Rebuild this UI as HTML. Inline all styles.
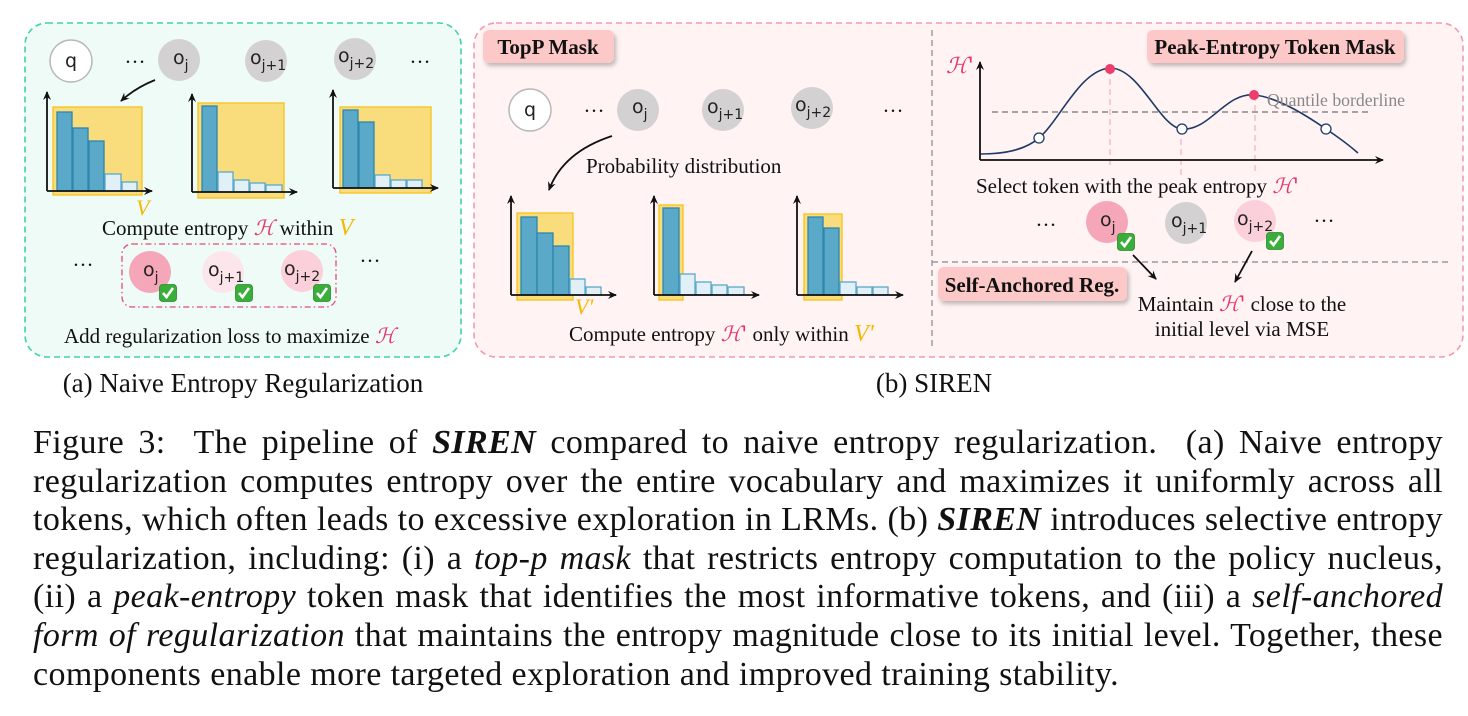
<!DOCTYPE html>
<html><head><meta charset="utf-8">
<style>
html,body{margin:0;padding:0;background:#fff;width:1468px;height:716px;overflow:hidden}
.cap{position:absolute;left:33px;width:1410px;top:424px;font-family:"Liberation Serif",serif;font-size:34px;letter-spacing:0.4px;line-height:38.6px;color:#111}
.cap div{text-align:justify;text-align-last:justify;white-space:nowrap}
.cap div.last{text-align-last:left}
svg{position:absolute;left:0;top:0}
</style></head><body>
<svg width="1468" height="430" viewBox="0 0 1468 430" xmlns="http://www.w3.org/2000/svg">
<defs>
<marker id="ar" markerWidth="10" markerHeight="10" refX="8" refY="5" orient="auto" markerUnits="userSpaceOnUse"><path d="M0,1 L9,5 L0,9 L3,5 Z" fill="#111"/></marker>
<filter id="sh" x="-10%" y="-20%" width="130%" height="160%"><feDropShadow dx="2" dy="3" stdDeviation="2" flood-color="#000" flood-opacity="0.25"/></filter>
<g id="chk"><rect x="-8.5" y="-8.5" width="17" height="17" rx="3" fill="#3aae3a" stroke="#2a8a2a" stroke-width="0.8"/><path d="M-5,0 L-1.5,4 L5,-5" fill="none" stroke="#fff" stroke-width="2.6"/></g>
</defs>
<style>
.tk{font-family:"DejaVu Sans",sans-serif;font-size:19px;fill:#222}
.sb{font-size:14px}
.t{font-family:"Liberation Serif",serif;font-size:21px;fill:#111}
.H{fill:#e8336b;font-style:italic;font-family:"DejaVu Serif",serif}
.V{fill:#f5b800;font-style:italic;font-family:"Liberation Serif",serif}
.bar{fill:#5ba9c8;stroke:#2f86ad;stroke-width:1.3}
.lb{fill:#e0f0f6;stroke:#5aa9c9;stroke-width:1.3}
.y{fill:#f9dc7c;stroke:#f7c31a;stroke-width:1.3}
.ax{stroke:#111;stroke-width:1.8;fill:none}
.lbl{font-family:"Liberation Serif",serif;font-weight:bold;font-size:21px;fill:#111}
.ttl{font-family:"Liberation Serif",serif;font-size:27px;fill:#111}
</style>

<rect x="25" y="23" width="436" height="334" rx="22" fill="#effbf7" stroke="#3fd3a6" stroke-width="1.6" stroke-dasharray="6,4"/>
<circle cx="71" cy="61" r="21" fill="#fff" stroke="#b8b8b8" stroke-width="1.5"/>
<text class="tk" x="71" y="67" text-anchor="middle">q</text>
<text class="t" x="135" y="63" text-anchor="middle">…</text>
<circle cx="179" cy="60" r="21" fill="#d3d1d1"/>
<text class="tk" x="173" y="64">o<tspan class="sb" dy="6">j</tspan></text>
<circle cx="266" cy="61" r="21" fill="#d3d1d1"/>
<text class="tk" x="250" y="64">o<tspan class="sb" dy="6">j+1</tspan></text>
<circle cx="355" cy="59" r="21" fill="#d3d1d1"/>
<text class="tk" x="338" y="62">o<tspan class="sb" dy="6">j+2</tspan></text>
<text class="t" x="420" y="63" text-anchor="middle">…</text>
<path d="M155,80 Q135,88 121,101" class="ax" stroke-width="1.2" marker-end="url(#ar)"/>
<rect class="y" x="53" y="107" width="89" height="88"/>
<rect class="bar" x="57" y="112" width="15" height="79"/><rect class="bar" x="73" y="128" width="15" height="63"/><rect class="bar" x="89" y="141" width="15" height="50"/>
<rect class="lb" x="105" y="174" width="16" height="17"/><rect class="lb" x="122" y="182" width="15" height="9"/>
<path class="ax" d="M47,191 V92" marker-end="url(#ar)"/><path class="ax" d="M47,191 H152" marker-end="url(#ar)"/>
<rect class="y" x="198" y="103" width="86" height="95"/>
<rect class="bar" x="202" y="106" width="15" height="86"/>
<rect class="lb" x="218" y="172" width="15" height="20"/><rect class="lb" x="234" y="180" width="15" height="12"/><rect class="lb" x="250" y="183" width="15" height="9"/><rect class="lb" x="266" y="185" width="16" height="7"/>
<path class="ax" d="M192,192 V94" marker-end="url(#ar)"/><path class="ax" d="M192,192 H297" marker-end="url(#ar)"/>
<rect class="y" x="340" y="107" width="91" height="86"/>
<rect class="bar" x="343" y="110" width="15" height="78"/><rect class="bar" x="359" y="122" width="15" height="66"/>
<rect class="lb" x="375" y="175" width="15" height="13"/><rect class="lb" x="391" y="180" width="15" height="8"/><rect class="lb" x="407" y="180" width="15" height="8"/>
<path class="ax" d="M333,188 V90" marker-end="url(#ar)"/><path class="ax" d="M333,188 H438" marker-end="url(#ar)"/>
<text class="V" x="136" y="215" font-size="22">V</text>
<text class="t" x="102" y="235">Compute entropy <tspan class="H">ℋ</tspan> within <tspan class="V" font-size="24">V</tspan></text>
<rect x="122" y="244" width="214" height="63" rx="10" fill="none" stroke="#e8487a" stroke-width="1.3" stroke-dasharray="6,3,1.5,3"/>
<text class="t" x="83" y="266" text-anchor="middle">…</text>
<text class="t" x="370" y="262" text-anchor="middle">…</text>
<circle cx="150" cy="272" r="21" fill="#f5a6b8"/>
<text class="tk" x="143" y="276">o<tspan class="sb" dy="6">j</tspan></text>
<circle cx="223" cy="272" r="21" fill="#fde6eb"/>
<text class="tk" x="208" y="276">o<tspan class="sb" dy="6">j+1</tspan></text>
<circle cx="302" cy="271" r="21" fill="#fbd0da"/>
<text class="tk" x="284" y="275">o<tspan class="sb" dy="6">j+2</tspan></text>
<use href="#chk" x="168" y="293"/><use href="#chk" x="244" y="293"/><use href="#chk" x="322" y="293"/>
<text class="t" x="64" y="343">Add regularization loss to maximize <tspan class="H">ℋ</tspan></text>
<text class="ttl" x="243" y="392" text-anchor="middle">(a) Naive Entropy Regularization</text>

<rect x="474" y="23" width="989" height="334" rx="22" fill="#fff3f3" stroke="#f39ab0" stroke-width="1.6" stroke-dasharray="6,4"/>
<path d="M932,30 V346" stroke="#999" stroke-width="1.4" stroke-dasharray="6,4"/>
<path d="M932,262 H1452" stroke="#999" stroke-width="1.4" stroke-dasharray="6,4"/>
<rect x="483" y="30" width="131" height="33" rx="6" fill="#fcc8c8" filter="url(#sh)"/>
<text class="lbl" x="548" y="54" text-anchor="middle">TopP Mask</text>
<circle cx="530" cy="110" r="21" fill="#fff" stroke="#b8b8b8" stroke-width="1.5"/>
<text class="tk" x="530" y="116" text-anchor="middle">q</text>
<text class="t" x="594" y="112" text-anchor="middle">…</text>
<circle cx="638" cy="110" r="21" fill="#d3d1d1"/>
<text class="tk" x="632" y="113">o<tspan class="sb" dy="6">j</tspan></text>
<circle cx="723" cy="110" r="21" fill="#d3d1d1"/>
<text class="tk" x="707" y="113">o<tspan class="sb" dy="6">j+1</tspan></text>
<circle cx="812" cy="108" r="21" fill="#d3d1d1"/>
<text class="tk" x="795" y="111">o<tspan class="sb" dy="6">j+2</tspan></text>
<text class="t" x="893" y="112" text-anchor="middle">…</text>
<path d="M612,136 Q563,152 549,190" class="ax" stroke-width="1.2" marker-end="url(#ar)"/>
<text class="t" x="586" y="173">Probability distribution</text>
<rect class="y" x="517" y="213" width="56" height="87"/>
<rect class="bar" x="521" y="217" width="16" height="78"/><rect class="bar" x="537" y="233" width="16" height="62"/><rect class="bar" x="553" y="246" width="16" height="49"/>
<rect class="lb" x="570" y="279" width="15" height="16"/><rect class="lb" x="586" y="287" width="15" height="8"/>
<path class="ax" d="M511,295 V196" marker-end="url(#ar)"/><path class="ax" d="M511,295 H616" marker-end="url(#ar)"/>
<text class="V" x="575" y="314" font-size="22">V'</text>
<rect class="y" x="659" y="205" width="24" height="95"/>
<rect class="bar" x="663" y="208" width="16" height="87"/>
<rect class="lb" x="680" y="274" width="15" height="21"/><rect class="lb" x="696" y="282" width="15" height="13"/><rect class="lb" x="712" y="285" width="15" height="10"/><rect class="lb" x="728" y="287" width="16" height="8"/>
<path class="ax" d="M654,295 V196" marker-end="url(#ar)"/><path class="ax" d="M654,295 H759" marker-end="url(#ar)"/>
<rect class="y" x="804" y="214" width="38" height="86"/>
<rect class="bar" x="808" y="217" width="15" height="78"/><rect class="bar" x="824" y="228" width="15" height="67"/>
<rect class="lb" x="840" y="282" width="16" height="13"/><rect class="lb" x="857" y="287" width="15" height="8"/><rect class="lb" x="873" y="287" width="15" height="8"/>
<path class="ax" d="M797,295 V196" marker-end="url(#ar)"/><path class="ax" d="M797,295 H903" marker-end="url(#ar)"/>
<text class="t" x="569" y="341">Compute entropy <tspan class="H">ℋ'</tspan> only within <tspan class="V" font-size="24">V'</tspan></text>
<text class="ttl" x="934" y="392" text-anchor="middle">(b) SIREN</text>

<rect x="1147" y="30" width="257" height="33" rx="6" fill="#fcc8c8" filter="url(#sh)"/>
<text class="lbl" x="1275" y="54" text-anchor="middle">Peak-Entropy Token Mask</text>
<text class="H" x="946" y="73" font-size="22">ℋ'</text>
<path d="M992,112 H1372" stroke="#888" stroke-width="1.4" stroke-dasharray="6,4"/>
<path d="M1110,69 V168 M1181,129 V176 M1255,95 V172" stroke="#f6b0c0" stroke-width="1.2" stroke-dasharray="6,4"/>
<path d="M981,154 C1005,154 1025,150 1039,138 C1060,120 1080,70 1110,68 C1140,68 1160,128 1182,129 C1210,131 1225,92 1255,95 C1280,98 1310,118 1326,129 C1338,137 1350,146 1358,153" fill="none" stroke="#1f3a66" stroke-width="1.6"/>
<path class="ax" d="M980,160 V62" marker-end="url(#ar)"/><path class="ax" d="M980,160 H1383" marker-end="url(#ar)"/>
<circle cx="1039" cy="138" r="5" fill="#fff" stroke="#1f3a66" stroke-width="1.3"/>
<circle cx="1182" cy="129" r="5" fill="#fff" stroke="#1f3a66" stroke-width="1.3"/>
<circle cx="1326" cy="129" r="5" fill="#fff" stroke="#1f3a66" stroke-width="1.3"/>
<circle cx="1110" cy="69" r="5" fill="#ec3d6c"/>
<circle cx="1254" cy="95" r="5" fill="#ec3d6c"/>
<text x="1267" y="106" font-family="Liberation Serif,serif" font-size="17.7" fill="#888">Quantile borderline</text>
<text class="t" x="976" y="193">Select token with the peak entropy <tspan class="H">ℋ'</tspan></text>
<text class="t" x="1046" y="226" text-anchor="middle">…</text>
<circle cx="1107" cy="222" r="21" fill="#f5a6b8"/>
<text class="tk" x="1100" y="226">o<tspan class="sb" dy="6">j</tspan></text>
<circle cx="1186" cy="223" r="21" fill="#d3d1d1"/>
<text class="tk" x="1171" y="227">o<tspan class="sb" dy="6">j+1</tspan></text>
<circle cx="1255" cy="221" r="21" fill="#fbd0da"/>
<text class="tk" x="1237" y="225">o<tspan class="sb" dy="6">j+2</tspan></text>
<text class="t" x="1324" y="222" text-anchor="middle">…</text>
<use href="#chk" x="1126" y="242"/><use href="#chk" x="1275" y="241"/>
<path d="M1133,255 L1156,279" class="ax" stroke-width="1.2" marker-end="url(#ar)"/>
<path d="M1252,251 L1235,282" class="ax" stroke-width="1.2" marker-end="url(#ar)"/>
<rect x="938" y="267" width="189" height="34" rx="6" fill="#fcc8c8" filter="url(#sh)"/>
<text class="lbl" x="1032" y="292" text-anchor="middle">Self-Anchored Reg.</text>
<text class="t" x="1242" y="311" text-anchor="middle">Maintain <tspan class="H">ℋ'</tspan> close to the</text>
<text class="t" x="1242" y="336" text-anchor="middle">initial level via MSE</text>
</svg>

<div class="cap">
<div>Figure 3:&nbsp; The pipeline of <b><i>SIREN</i></b> compared to naive entropy regularization.&nbsp; (a) Naive entropy</div>
<div>regularization computes entropy over the entire vocabulary and maximizes it uniformly across all</div>
<div>tokens, which often leads to excessive exploration in LRMs. (b) <b><i>SIREN</i></b> introduces selective entropy</div>
<div>regularization, including: (i) a <i>top-p mask</i> that restricts entropy computation to the policy nucleus,</div>
<div>(ii) a <i>peak-entropy</i> token mask that identifies the most informative tokens, and (iii) a <i>self-anchored</i></div>
<div><i>form of regularization</i> that maintains the entropy magnitude close to its initial level. Together, these</div>
<div class="last">components enable more targeted exploration and improved training stability.</div>
</div>
</body></html>
